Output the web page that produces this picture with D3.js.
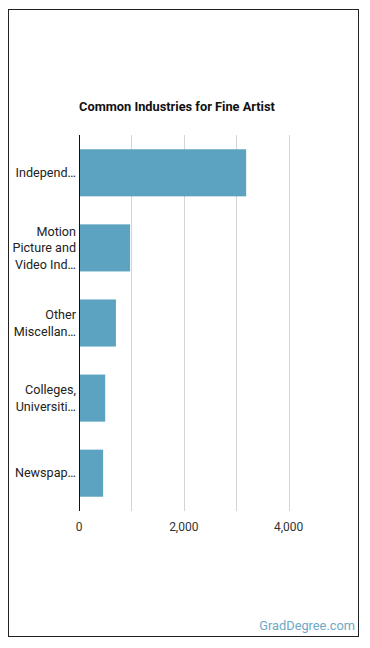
<!DOCTYPE html>
<html>
<head>
<meta charset="utf-8">
<script src="https://cdn.jsdelivr.net/npm/d3@7"></script>
<style>
  body { margin: 0; background: #fff; font-family: Roboto, sans-serif; }
  svg text { font-family: Roboto, sans-serif; }
</style>
</head>
<body>
<svg id="chart"></svg>
<script>
// data
let industries = [
  ['Independ\u2026'],
  ['Motion', 'Picture and', 'Video Ind\u2026'],
  ['Other', 'Miscellan\u2026'],
  ['Colleges,', 'Universiti\u2026'],
  ['Newspap\u2026']
];
let employees = [3190, 975, 705, 500, 460];
let xTicks = [0, 2000, 4000];
let xGrid = [1000, 2000, 3000, 4000];

let config = { svg: {}, plot: {} };
config.svg.width = 370;
config.svg.height = 648;
config.plot.x = 79;
config.plot.y = 135;
config.plot.width = 262;
config.plot.height = 376;

let svg = d3.select('svg#chart')
  .attr('width', config.svg.width)
  .attr('height', config.svg.height);

// outer frame
svg.append('rect')
  .attr('x', 8.5).attr('y', 9.5)
  .attr('width', 350).attr('height', 627)
  .style('fill', 'none')
  .style('stroke', '#222')
  .style('stroke-width', 1);

svg.append('text')
  .attr('x', 177).attr('y', 111)
  .style('text-anchor', 'middle')
  .style('font-weight', 700)
  .style('font-size', '12.8px')
  .style('fill', '#111')
  .text('Common Industries for Fine Artist');

let plot = svg.append('g')
  .attr('transform', translate(config.plot.x, config.plot.y));

let scale = {};
scale.x = d3.scaleLinear().domain([0, 5000]).range([0, config.plot.width]);
scale.y = d3.scaleBand()
  .domain(d3.range(industries.length))
  .range([0, config.plot.height])
  .paddingInner(0.373)
  .paddingOuter(0.19);

// grid lines
plot.selectAll('line.grid')
  .data(xGrid)
  .enter()
  .append('line')
  .attr('class', 'grid')
  .attr('x1', d => Math.round(scale.x(d)) + 0.5)
  .attr('x2', d => Math.round(scale.x(d)) + 0.5)
  .attr('y1', 0)
  .attr('y2', config.plot.height)
  .style('stroke', '#d4d4d4')
  .style('stroke-width', 1);

// bars
plot.selectAll('rect.bar')
  .data(employees)
  .enter()
  .append('rect')
  .attr('class', 'bar')
  .attr('x', 0)
  .attr('y', (d, i) => scale.y(i))
  .attr('width', d => scale.x(d))
  .attr('height', scale.y.bandwidth())
  .style('fill', '#5ba3c1');

// y axis line
plot.append('line')
  .attr('x1', 0.5).attr('x2', 0.5)
  .attr('y1', 0).attr('y2', config.plot.height)
  .style('stroke', '#111')
  .style('stroke-width', 1);

// category labels
let labels = plot.selectAll('text.cat')
  .data(industries)
  .enter()
  .append('text')
  .attr('class', 'cat')
  .attr('x', -3)
  .attr('y', (d, i) => scale.y(i) + scale.y.bandwidth() / 2)
  .style('text-anchor', 'end')
  .style('font-size', '12.6px')
  .style('fill', '#222');

labels.each(function(lines) {
  let t = d3.select(this);
  let lh = 16.5;
  let start = -(lines.length - 1) * lh / 2;
  lines.forEach((line, j) => {
    t.append('tspan')
      .attr('x', -3)
      .attr('dy', j === 0 ? (start + 4.3) : lh)
      .text(line);
  });
});

// x tick labels
plot.selectAll('text.tick')
  .data(xTicks)
  .enter()
  .append('text')
  .attr('class', 'tick')
  .attr('x', d => scale.x(d))
  .attr('y', config.plot.height + 20)
  .style('text-anchor', 'middle')
  .style('font-size', '12px')
  .style('fill', '#333')
  .text(d => d3.format(',')(d));

svg.append('text')
  .attr('x', 355).attr('y', 630)
  .style('text-anchor', 'end')
  .style('font-size', '12.8px')
  .style('fill', '#6ea8c4')
  .text('GradDegree.com');

function translate(x, y) {
  return 'translate(' + x + ',' + y + ')';
}
</script>
</body>
</html>
